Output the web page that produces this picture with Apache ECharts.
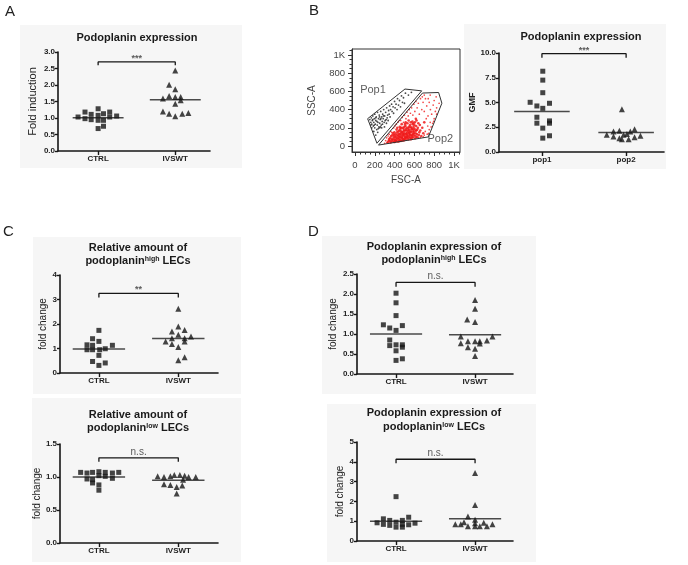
<!DOCTYPE html>
<html><head><meta charset="utf-8">
<script src="https://cdn.jsdelivr.net/npm/echarts@6/dist/echarts.min.js"></script>
<style>html,body{margin:0;padding:0;background:#fff}#c{width:688px;height:565px}</style>
</head><body><div id="c"></div>
<script>
// ---------------- DATA ----------------
const groupsCI = ['CTRL', 'IVSWT'];
const groupsPop = ['pop1', 'pop2'];

// Panel A
const ctrlA = [1.03,1.18,1.11,0.98,0.95,1.28,1.08,0.93,1.13,0.93,1.18,1.03,1.06,0.68,0.75];
const ctrlA_jit = [-0.26,-0.17,-0.09,-0.17,-0.09,0,0,0,0.07,0.07,0.15,0.15,0.24,0,0.07];
const ivswtA = [2.44,2.01,1.87,1.59,1.67,1.64,1.64,1.54,1.43,1.20,1.13,1.05,1.13,1.15];
const ivswtA_jit = [0,-0.08,0,-0.16,-0.08,0,0.07,0.07,0,-0.16,-0.08,0,0.09,0.17];
const meansA = [1.01, 1.55];
const bracketA = [2.70, 2.60];
const sigA = '***';

// Panel B (dot plot)
const pop1B = [8.16,7.26,5.99,5.02,4.65,4.92,4.41,3.51,2.91,3.14,2.91,2.41,1.64,1.40];
const pop1B_jit = [0.01,0.01,0.01,-0.14,-0.06,0.09,0.01,-0.06,-0.06,0.09,0.09,0.01,0.09,0.01];
const pop2B = [4.31,1.74,2.07,2.14,1.57,1.40,1.74,1.81,1.30,1.30,2.07,2.31,1.50,1.64];
const pop2B_jit = [-0.05,-0.23,-0.15,-0.08,-0.15,-0.08,-0.03,0.01,-0.05,0.03,0.05,0.10,0.10,0.17];
const meansB = [4.08, 1.97];
const bracketB = [9.93, 9.53];
const sigB = '***';

// Panel C top
const ctrlC1 = [1.74,1.40,1.29,1.15,1.13,1.13,0.99,0.95,0.95,0.95,0.72,0.47,0.31,0.41];
const ctrlC1_jit = [0,-0.08,0,-0.15,-0.08,0.17,0.08,-0.15,-0.08,0.01,0,-0.08,0,0.08];
const ivswtC1 = [2.62,1.90,1.69,1.76,1.56,1.42,1.42,1.49,1.29,1.18,1.29,1.06,0.64,0.52];
const ivswtC1_jit = [0,0,-0.08,0.08,0,-0.08,0.08,0.16,-0.16,-0.08,0.08,0,0.08,0];
const meansC1 = [0.98, 1.41];
const bracketC1 = [3.25, 3.08];
const sigC1 = '**';

// Panel C bottom
const ctrlC2 = [1.07,1.06,1.07,1.08,1.07,1.06,1.07,0.97,0.96,1.02,1.01,0.98,0.91,0.88,0.80];
const ctrlC2_jit = [-0.23,-0.15,-0.08,0,0.08,0.17,0.25,-0.15,-0.08,0,0.08,0.17,-0.08,0,0];
const ivswtC2 = [1.01,1.00,1.01,1.03,1.03,1.02,1.00,1.00,0.89,0.88,0.85,0.87,0.75,0.96];
const ivswtC2_jit = [-0.26,-0.18,-0.10,-0.05,0.02,0.08,0.13,0.22,-0.18,-0.10,-0.02,0.05,-0.02,0.06];
const meansC2 = [1.00, 0.95];
const bracketC2 = [1.29, 1.23];
const sigC2 = 'n.s.';

// Panel D top
const ctrlD1 = [2.02,1.78,1.46,1.23,1.15,1.21,1.09,0.85,0.71,0.73,0.73,0.67,0.58,0.34,0.38];
const ctrlD1_jit = [0,0,0,-0.16,-0.08,0.08,0,-0.08,-0.08,0,0.08,0.08,0,0,0.08];
const ivswtD1 = [1.85,1.63,1.36,1.30,0.94,0.94,0.77,0.82,0.82,0.82,0.84,0.76,0.67,0.63,0.45];
const ivswtD1_jit = [0,0,-0.1,0,-0.18,0.22,-0.18,-0.09,0,0.06,0.15,0.06,-0.09,0,0];
const meansD1 = [1.00, 0.98];
const bracketD1 = [2.29, 2.18];
const sigD1 = 'n.s.';

// Panel D bottom
const ctrlD2 = [2.24,0.92,1.12,0.84,1.04,0.79,0.95,0.70,0.84,1.04,0.70,1.20,0.82,0.90];
const ctrlD2_jit = [0,-0.24,-0.16,-0.16,-0.08,-0.08,0,0,0.08,0.08,0.08,0.16,0.16,0.24];
const ivswtD2 = [3.43,1.82,1.24,1.07,0.84,0.84,0.75,0.90,0.75,0.92,0.75,0.84,0.95,0.74];
const ivswtD2_jit = [0,0,-0.09,0,-0.25,-0.18,-0.09,0,0.06,0.11,0.15,0.22,-0.14,0];
const meansD2 = [1.00, 1.12];
const bracketD2 = [4.13, 3.93];
const sigD2 = 'n.s.';

// Flow cytometry plot (FSC-A, SSC-A)
const flowTicks = [0, 200, 400, 600, 800, 1000];
const flowTickLabels = ['0', '200', '400', '600', '800', '1K'];
const flowMinorTicks = [50,100,150,250,300,350,450,500,550,650,700,750,850,900,950,1050];
const gatePop1 = [[128,300],[505,626],[674,606],[222,30],[128,300]];
const gatePop2 = [[682,582],[845,588],[878,470],[742,100],[238,10],[682,582]];
const gateNames = ['Pop1', 'Pop2'];
const gateLabelAt = [[182,615],[862,77]];
// dense core of Pop2 events
const flowPop2Core = [
[330,40],[350,60],[360,38],[370,80],[380,50],[390,100],[395,45],[400,70],[410,130],[415,55],[420,90],[425,150],[430,50],[435,110],[440,75],[445,170],[450,60],[455,130],[460,95],[465,200],[470,58],[475,150],[480,80],[485,115],[490,190],[495,62],[500,140],[505,100],[510,220],[515,70],[520,170],[525,120],[530,250],[535,85],[540,190],[545,140],[550,100],[555,230],[560,160],[565,75],[570,200],[575,120],[580,270],[585,95],[590,180],[595,140],[600,230],[610,110],[615,300],[620,170],
[340,55],[355,90],[365,110],[375,65],[385,140],[395,120],[405,95],[410,60],[420,180],[430,125],[438,160],[442,50],[448,95],[452,210],[458,70],[462,165],[468,120],[472,240],[478,100],[482,60],[488,160],[492,130],[498,210],[502,80],[508,170],[512,260],[518,130],[522,95],[528,200],[532,150],[538,110],[542,280],[548,175],[552,130],[558,90],[562,210],[568,150],[572,110],[578,190],[582,240],[588,130],[592,210],[598,160],[605,260],[612,140],[618,220],[625,130],[630,180],[640,250],[650,150],
[345,75],[362,50],[378,120],[388,75],[398,150],[402,45],[412,110],[418,70],[428,200],[432,85],[445,135],[450,110],[458,185],[463,55],[468,145],[474,90],[480,200],[486,135],[490,75],[496,170],[500,115],[506,240],[510,90],[516,190],[520,140],[526,100],[534,170],[540,72],[546,210],[550,155],[556,120],[564,260],[570,180],[576,90],[584,160],[590,250],[596,115],[602,190],[608,85],[614,170],[622,280],[628,100],[635,200],[645,120],[655,230],[660,170],[670,110],[680,200],[690,140],[700,260]
];
// sparse outer Pop2 events
const flowPop2Outer = [
[300,30],[310,60],[320,90],[325,35],[335,110],[345,130],[360,160],[372,150],[392,200],[405,222],[418,240],[435,262],[448,280],[462,280],[478,315],[490,260],[500,340],[515,300],[525,372],[538,330],[548,400],[560,360],[572,420],[585,340],[595,460],[605,380],[615,490],[628,420],[640,470],[650,350],[662,520],[675,400],[688,480],[700,380],[712,520],[725,440],[738,330],[750,480],[762,400],[775,350],[790,450],[800,300],[812,380],[825,420],[825,350],[720,300],[735,220],[760,260],[770,210],[785,250],[795,270],[710,160],[730,130],[750,180],[745,140],[690,100],[660,95],[640,92],[620,95],[700,120],[700,560],[760,560],[820,540],[680,540],[740,520],[800,500],[850,470]
];
const flowPop1 = [
[150,290],[160,260],[165,310],[170,240],[175,280],[180,330],[185,220],[190,260],[195,300],[200,200],[200,350],[205,240],[210,280],[215,320],[220,180],[225,230],[228,370],[232,260],[238,300],[242,210],[245,340],[250,250],[255,290],[260,380],[265,230],[270,320],[275,270],[280,350],[285,300],[290,400],[295,260],[300,330],[310,370],[315,290],[320,420],[330,340],[340,390],[350,440],[360,400],[370,460],[385,430],[400,490],[415,460],[430,520],[450,500],[470,550],[490,530],[510,580],[540,560],[570,590],[250,200],[230,150],[210,120],[190,160],[170,200],[160,230],[270,200],
[180,290],[195,230],[210,310],[222,270],[235,190],[248,320],[258,210],[262,300],[278,240],[288,330],[298,210],[305,280],[318,250],[325,310],[335,280],[345,350],[355,320],[375,380],[390,360],[405,420],[425,400],[440,450],[460,430],[480,480],[500,470]
];

// ---------------- BUILD ----------------
const F = 'Arial, "Liberation Sans", Helvetica, sans-serif';
const INK = '#161616';
const grids = [], xAxes = [], yAxes = [], series = [], graphics = [];

function dotPanel(L, D) {
  const gi = grids.length;
  grids.push({left: L.left, top: L.top, width: L.width, height: L.height});
  xAxes.push({
    type: 'value', gridIndex: gi, min: L.xmin, max: L.xmax, splitLine: {show: false},
    axisLine: {onZero: false, lineStyle: {color: INK, width: 1.6}},
    axisTick: {customValues: [1, 2], length: 4, lineStyle: {color: INK, width: 1.4}},
    axisLabel: {customValues: [1, 2], formatter: v => D.cats[Math.round(v) - 1],
      fontFamily: F, fontWeight: 'bold', fontSize: 8, color: '#222', margin: 4}
  });
  yAxes.push({
    type: 'value', gridIndex: gi, min: L.ymin, max: L.ymax, interval: L.yint,
    name: D.yname, nameLocation: 'middle', nameGap: L.nameGap,
    nameTextStyle: {fontFamily: F, fontSize: L.nameSize, fontWeight: L.nameWeight, color: '#222'},
    splitLine: {show: false},
    axisLine: {show: true, onZero: false, lineStyle: {color: INK, width: 1.6}},
    axisTick: {show: true, length: 3, lineStyle: {color: INK, width: 1.4}},
    axisLabel: {formatter: v => v.toFixed(L.dec), fontFamily: F, fontWeight: 'bold', fontSize: 8, color: '#222', margin: 3}
  });
  const ax = {xAxisIndex: gi, yAxisIndex: gi, silent: true};
  series.push(Object.assign({type: 'scatter', symbol: 'rect', symbolSize: 5, itemStyle: {color: INK}, z: 4,
    data: D.g1.map((v, k) => [1 + D.j1[k], v])}, ax));
  series.push(Object.assign({type: 'scatter', symbol: 'triangle', symbolSize: [6, 6], itemStyle: {color: INK}, z: 4,
    data: D.g2.map((v, k) => [2 + D.j2[k], v])}, ax));
  D.means.forEach((m, k) => series.push(Object.assign({type: 'line', symbol: 'none', z: 3,
    lineStyle: {color: '#4a4a4a', width: 1.5}, data: [[k + 1 - 0.33, m], [k + 1 + 0.33, m]]}, ax)));
  series.push(Object.assign({type: 'line', symbol: 'none', z: 3, lineStyle: {color: INK, width: 1.3},
    data: [[1, D.br[1]], [1, D.br[0]], [2, D.br[0]], [2, D.br[1]]]}, ax));
  const isNs = D.sig === 'n.s.';
  series.push(Object.assign({type: 'scatter', symbolSize: 0, z: 5, data: [[1.5, D.br[0]]],
    label: {show: true, position: 'top', distance: isNs ? 1 : -1, formatter: D.sig, fontFamily: F,
      fontSize: isNs ? 10 : 9, fontWeight: isNs ? 'normal' : 'bold', color: '#333'}}, ax));
}

function bg(x, y, w, h) { graphics.push({type: 'rect', z: -10, shape: {x, y, width: w, height: h}, style: {fill: '#f6f6f6'}}); }
bg(20, 25, 222, 143); bg(464, 24, 202, 145);
bg(33, 237, 208, 157); bg(32, 398, 209, 164);
bg(322, 236, 214, 158); bg(327, 404, 209, 158);

const titleStyle = {font: 'bold 11px ' + F, fill: '#1a1a1a', textAlign: 'center', textVerticalAlign: 'middle'};
const rich = {b: {fontFamily: F, fontWeight: 'bold', fontSize: 11, color: '#1a1a1a'},
              s: {fontFamily: F, fontWeight: 'bold', fontSize: 7, color: '#1a1a1a', verticalAlign: 'top'}};
function title(x, y, text) { graphics.push({type: 'text', x, y, z: 10, style: Object.assign({text}, titleStyle)}); }
function title2(x, y, sup) { graphics.push({type: 'text', x, y, z: 10, style: Object.assign({text: '{b|podoplanin}{s|' + sup + '}{b| LECs}', rich}, titleStyle)}); }
title(137, 38, 'Podoplanin expression');
title(581, 37, 'Podoplanin expression');
title(138, 248, 'Relative amount of'); title2(138, 261, 'high');
title(138, 415, 'Relative amount of'); title2(138, 428, 'low');
title(434, 247, 'Podoplanin expression of'); title2(434, 260, 'high');
title(434, 413, 'Podoplanin expression of'); title2(434, 427, 'low');
[['A', 5, 4], ['B', 309, 3], ['C', 3, 224], ['D', 308, 224]].forEach(([t, x, y]) =>
  graphics.push({type: 'text', x, y, z: 10, style: {text: t, font: '15px ' + F, fill: '#222', textVerticalAlign: 'top'}}));

dotPanel({left: 58, top: 52, width: 152, height: 99, xmin: 0.48, xmax: 2.45, ymin: 0, ymax: 3, yint: 0.5, dec: 1, nameGap: 20, nameSize: 11, nameWeight: 'normal'},
  {cats: groupsCI, g1: ctrlA, j1: ctrlA_jit, g2: ivswtA, j2: ivswtA_jit, means: meansA, br: bracketA, sig: sigA, yname: 'Fold induction'});
dotPanel({left: 499, top: 53, width: 165, height: 99, xmin: 0.49, xmax: 2.45, ymin: 0, ymax: 10, yint: 2.5, dec: 1, nameGap: 20, nameSize: 9, nameWeight: 'bold'},
  {cats: groupsPop, g1: pop1B, j1: pop1B_jit, g2: pop2B, j2: pop2B_jit, means: meansB, br: bracketB, sig: sigB, yname: 'GMF'});
dotPanel({left: 60, top: 275, width: 158, height: 98, xmin: 0.51, xmax: 2.5, ymin: 0, ymax: 4, yint: 1, dec: 0, nameGap: 11, nameSize: 10, nameWeight: 'normal'},
  {cats: groupsCI, g1: ctrlC1, j1: ctrlC1_jit, g2: ivswtC1, j2: ivswtC1_jit, means: meansC1, br: bracketC1, sig: sigC1, yname: 'fold change'});
dotPanel({left: 60, top: 444, width: 158, height: 99, xmin: 0.51, xmax: 2.5, ymin: 0, ymax: 1.5, yint: 0.5, dec: 1, nameGap: 16, nameSize: 10, nameWeight: 'normal'},
  {cats: groupsCI, g1: ctrlC2, j1: ctrlC2_jit, g2: ivswtC2, j2: ivswtC2_jit, means: meansC2, br: bracketC2, sig: sigC2, yname: 'fold change'});
dotPanel({left: 357, top: 274, width: 156, height: 100, xmin: 0.506, xmax: 2.48, ymin: 0, ymax: 2.5, yint: 0.5, dec: 1, nameGap: 19, nameSize: 10, nameWeight: 'normal'},
  {cats: groupsCI, g1: ctrlD1, j1: ctrlD1_jit, g2: ivswtD1, j2: ivswtD1_jit, means: meansD1, br: bracketD1, sig: sigD1, yname: 'fold change'});
dotPanel({left: 357, top: 442, width: 156, height: 99, xmin: 0.506, xmax: 2.48, ymin: 0, ymax: 5, yint: 1, dec: 0, nameGap: 11, nameSize: 10, nameWeight: 'normal'},
  {cats: groupsCI, g1: ctrlD2, j1: ctrlD2_jit, g2: ivswtD2, j2: ivswtD2_jit, means: meansD2, br: bracketD2, sig: sigD2, yname: 'fold change'});

// Flow plot
const fg = grids.length;
grids.push({left: 352, top: 49, width: 108, height: 103, show: true, borderColor: '#333', borderWidth: 1, backgroundColor: 'transparent'});
const flowLbl = {fontFamily: F, fontSize: 9.5, color: '#444'};
const flowName = {fontFamily: F, fontSize: 10, color: '#444'};
const fmtK = v => flowTickLabels[flowTicks.indexOf(Math.round(v))];
const fx = xAxes.length, fy = yAxes.length;
xAxes.push({type: 'value', gridIndex: fg, position: 'bottom', min: -30, max: 1061, splitLine: {show: false},
  name: 'FSC-A', nameLocation: 'middle', nameGap: 23, nameTextStyle: flowName,
  axisLine: {onZero: false, lineStyle: {color: '#333', width: 1}},
  axisTick: {customValues: flowTicks, length: 4, lineStyle: {color: '#333'}},
  axisLabel: Object.assign({customValues: flowTicks, formatter: fmtK, margin: 8, hideOverlap: false}, flowLbl)});
yAxes.push({type: 'value', gridIndex: fg, position: 'left', min: -66, max: 1066, splitLine: {show: false},
  name: 'SSC-A', nameLocation: 'middle', nameGap: 35, nameTextStyle: flowName,
  axisLine: {show: true, onZero: false, lineStyle: {color: '#333', width: 1}},
  axisTick: {show: true, customValues: flowTicks, length: 4, lineStyle: {color: '#333'}},
  axisLabel: Object.assign({customValues: flowTicks, formatter: fmtK, margin: 7}, flowLbl)});
xAxes.push({type: 'value', gridIndex: fg, position: 'bottom', min: -30, max: 1061, splitLine: {show: false},
  axisLine: {show: false, onZero: false}, axisLabel: {show: false},
  axisTick: {customValues: flowMinorTicks, length: 2.5, lineStyle: {color: '#333'}}});
yAxes.push({type: 'value', gridIndex: fg, position: 'left', min: -66, max: 1066, splitLine: {show: false},
  axisLine: {show: false, onZero: false}, axisLabel: {show: false},
  axisTick: {show: true, customValues: flowMinorTicks, length: 2.5, lineStyle: {color: '#333'}}});
const fax = {xAxisIndex: fx, yAxisIndex: fy, silent: true};
series.push(Object.assign({type: 'scatter', symbolSize: 2.6, itemStyle: {color: '#f01a1a', opacity: 0.85}, data: flowPop2Core, z: 3}, fax));
series.push(Object.assign({type: 'scatter', symbolSize: 1.7, itemStyle: {color: '#f01a1a', opacity: 0.8}, data: flowPop2Outer, z: 3}, fax));
series.push(Object.assign({type: 'scatter', symbolSize: 1.8, itemStyle: {color: '#2a2a2a', opacity: 0.85}, data: flowPop1, z: 3}, fax));
[gatePop1, gatePop2].forEach(g => series.push(Object.assign({type: 'line', symbol: 'none', z: 4,
  lineStyle: {color: '#333', width: 1}, data: g}, fax)));
series.push(Object.assign({type: 'scatter', symbolSize: 0, z: 5,
  data: gateLabelAt.map((p, k) => ({value: p, name: gateNames[k]})),
  label: {show: true, position: 'inside', formatter: p => p.name, fontFamily: F, fontSize: 11, color: '#333'}}, fax));

const chart = echarts.init(document.getElementById('c'), null, {renderer: 'canvas'});
chart.setOption({animation: false, backgroundColor: '#fff', grid: grids, xAxis: xAxes, yAxis: yAxes, series, graphic: graphics});
</script></body></html>
